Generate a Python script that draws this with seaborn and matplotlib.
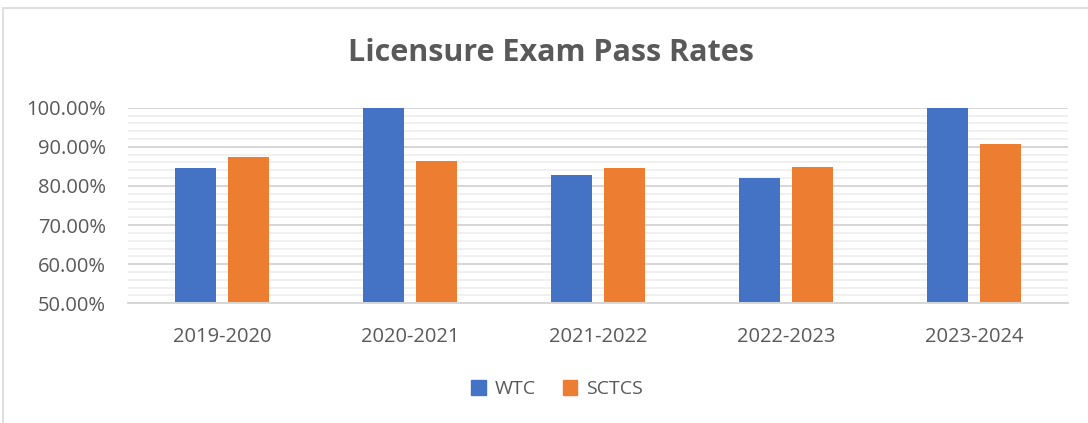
"""
Licensure Exam Pass Rates: WTC vs SCTCS, grouped bars by academic year.
"""

import pandas as pd
import seaborn as sns
import matplotlib.pyplot as plt
from matplotlib.lines import Line2D
from matplotlib.ticker import MultipleLocator, FuncFormatter


# ---------------------------
# Data
# ---------------------------

years = ["2019-2020", "2020-2021", "2021-2022", "2022-2023", "2023-2024"]
wtc = [84.5, 100.0, 82.8, 82.0, 100.0]
sctcs = [87.3, 86.3, 84.7, 84.9, 90.8]
series_names = ["WTC", "SCTCS"]

colors = {"WTC": "#4472C4", "SCTCS": "#ED7D31"}

data = pd.DataFrame({
    "Year": years * 2,
    "Rate": wtc + sctcs,
    "School": [series_names[0]] * len(years) + [series_names[1]] * len(years),
})


# ---------------------------
# Style
# ---------------------------

sns.set_theme(style="white")
plt.rcParams['font.family'] = ['Open Sans', 'DejaVu Sans']

TEXT = "#595959"


# ---------------------------
# Figure
# ---------------------------

fig = plt.figure(figsize=(10.88, 4.23), dpi=100)
ax = fig.add_axes([0.1176, 0.283, 0.8640, 0.4624])

sns.barplot(
    data=data,
    x="Year",
    y="Rate",
    hue="School",
    palette=colors,
    width=0.564,
    gap=0.21,
    saturation=1,
    linewidth=0,
    ax=ax,
    legend=False,
)

ax.set_ylim(50, 100)
ax.set_xlim(-0.5, len(years) - 0.5)
ax.yaxis.set_major_locator(MultipleLocator(10))
ax.yaxis.set_minor_locator(MultipleLocator(2))
ax.yaxis.set_major_formatter(FuncFormatter(lambda v, _: f"{v:.2f}%"))

ax.grid(which="major", axis="y", color="#d6d6d6", linewidth=1.4)
ax.grid(which="minor", axis="y", color="#efefef", linewidth=1.3)
ax.set_axisbelow(True)

ax.set_xlabel("")
ax.set_ylabel("")

for loc, spine in ax.spines.items():
    if loc == "bottom":
        spine.set_visible(True)
        spine.set_color("#d6d6d6")
        spine.set_linewidth(1.4)
    else:
        spine.set_visible(False)

ax.tick_params(axis="both", which="both", length=0, labelsize=14.5,
               labelcolor=TEXT)
ax.tick_params(axis="y", pad=16)
ax.tick_params(axis="x", pad=17)


# ---------------------------
# Title & legend
# ---------------------------

fig.text(0.506, 0.875, "Licensure Exam Pass Rates", ha="center", va="center",
         fontsize=22, fontweight="bold", color=TEXT)

handles = [plt.Rectangle((0, 0), 1, 1, color=colors[s]) for s in series_names]
fig.legend(handles, series_names, loc="center", bbox_to_anchor=(0.512, 0.08),
           ncol=2, frameon=False, fontsize=14, labelcolor=TEXT,
           handlelength=0.75, handleheight=0.75, handletextpad=0.45,
           columnspacing=1.4)


# ---------------------------
# Chart border (partial, as cropped)
# ---------------------------

fig.add_artist(Line2D([0.003, 0.003], [0.0, 0.981], color="#d9d9d9",
                      linewidth=1.2, transform=fig.transFigure))
fig.add_artist(Line2D([0.003, 1.0], [0.981, 0.981], color="#d9d9d9",
                      linewidth=1.2, transform=fig.transFigure))

fig.savefig("out.png", dpi=100)
